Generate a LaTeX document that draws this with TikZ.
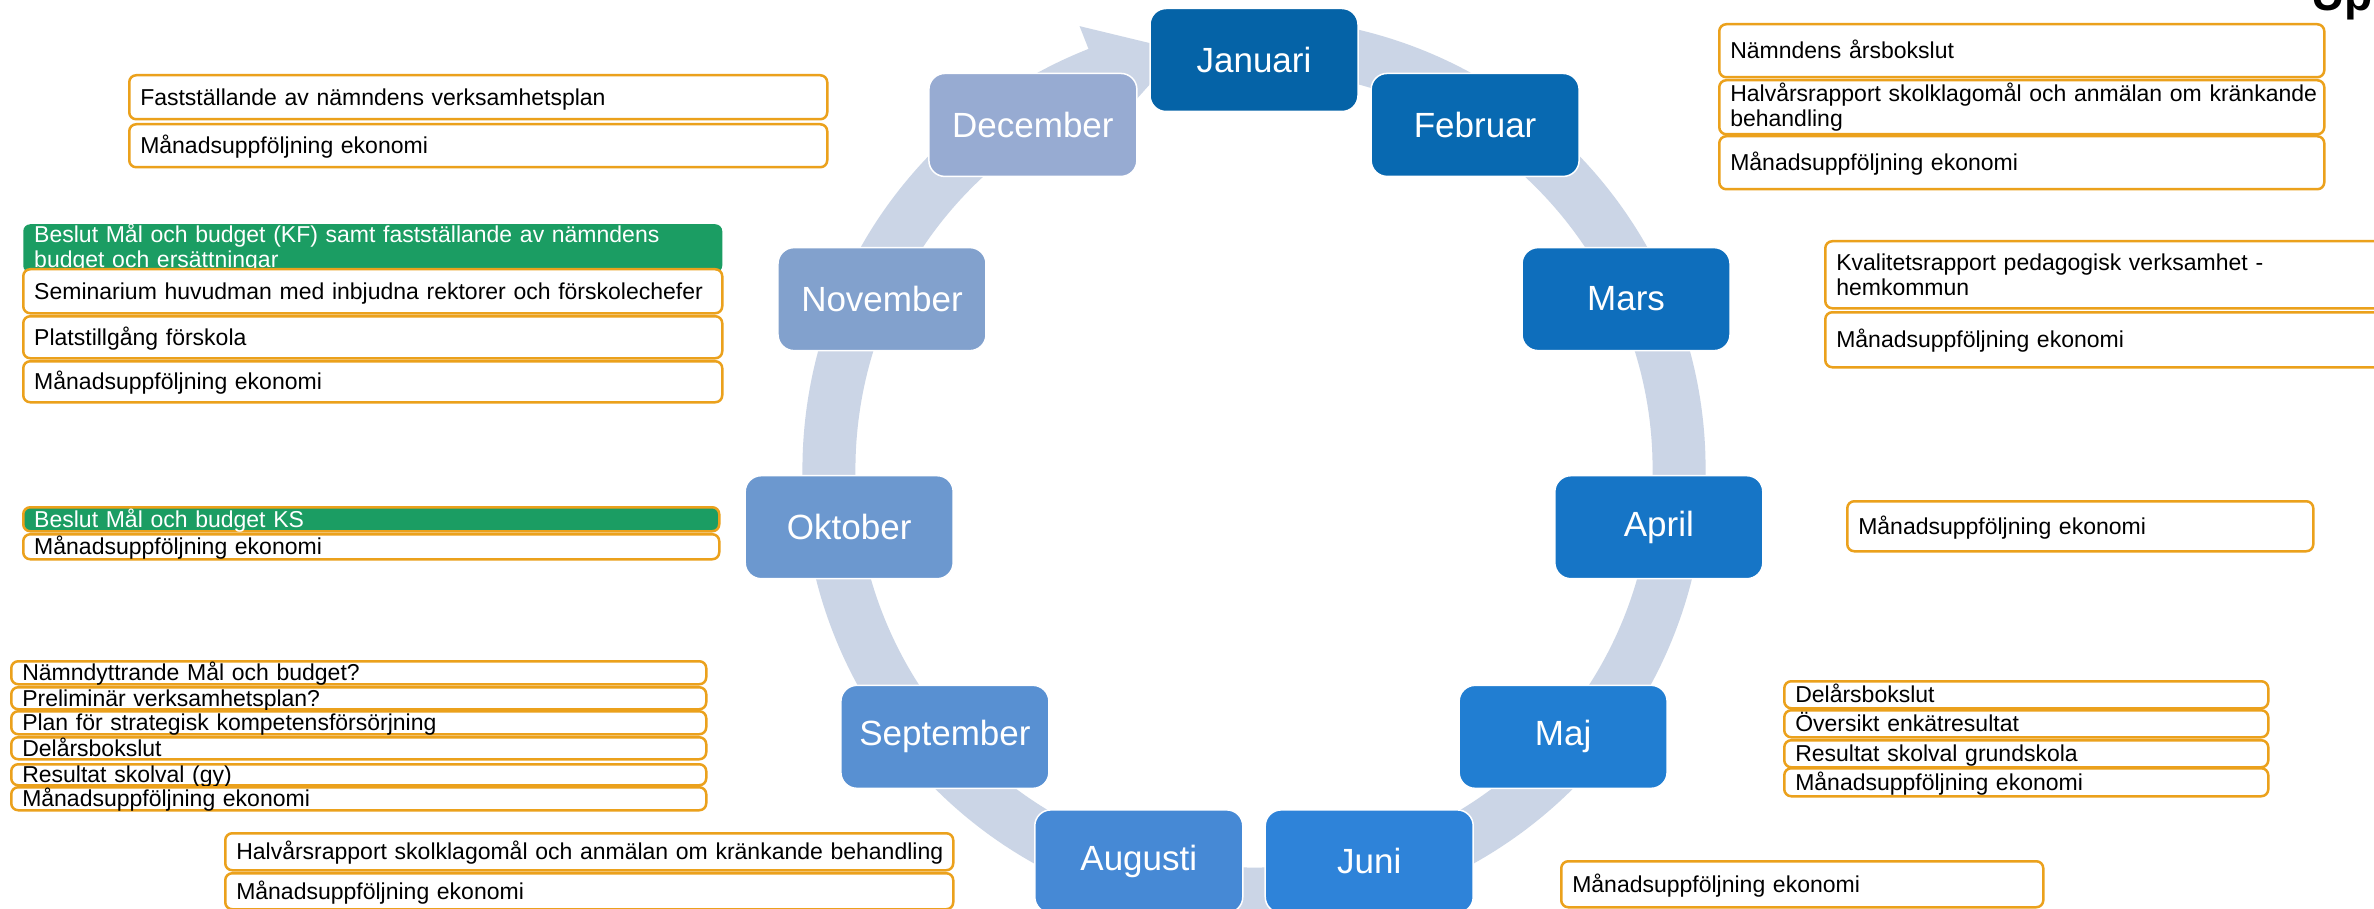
\documentclass[tikz,border=0pt]{standalone}
\usepackage{fontspec}
\setmainfont{Liberation Sans}
\definecolor{ringc}{HTML}{CBD5E6}
\definecolor{itemorange}{HTML}{EBA11C}
\definecolor{itemgreen}{HTML}{1B9D63}
\definecolor{c0}{HTML}{0563A7}
\definecolor{c1}{HTML}{0869B1}
\definecolor{c2}{HTML}{0E6EBC}
\definecolor{c3}{HTML}{1675C6}
\definecolor{c4}{HTML}{217ED2}
\definecolor{c5}{HTML}{2E83D9}
\definecolor{c6}{HTML}{4689D5}
\definecolor{c7}{HTML}{5890D2}
\definecolor{c8}{HTML}{6C98CF}
\definecolor{c9}{HTML}{82A1CD}
\definecolor{c10}{HTML}{97ABD2}
\newcommand\itemfont{\fontsize{23}{25}\selectfont}
\newcommand\monthfont{\fontsize{35}{40}\selectfont}
\tikzset{
  month/.style={rectangle, rounded corners=16pt, minimum width=208pt, minimum height=103pt,
    draw=white, line width=1.5pt, text=white, font=\monthfont, inner sep=0pt},
  item/.style={rectangle, draw=itemorange, line width=2.5pt, rounded corners=7pt, fill=white,
    anchor=north west, align=left, inner xsep=11pt, inner ysep=0pt, font=\itemfont, text=black},
  one/.style={text height=18pt, text depth=2pt},
  greenbox/.style={fill=itemgreen, text=white},
  ring/.style={draw=ringc, line width=53pt},
}
% single-line box: name, extra style, x1, y1, x2, y2, text
\newcommand\ibox[7]{%
  \pgfmathsetmacro\bw{#5-#3}\pgfmathsetmacro\bh{#6-#4}\pgfmathsetmacro\tw{#5-#3-22}%
  \node[item,one,#2,minimum width=\bw pt,minimum height=\bh pt,text width=\tw pt] (#1) at (#3,-#4) {\mbox{#7}};}
% two-line box: name, extra style, x1, y1, x2, y2, line 1, line 2
\newcommand\iboxm[8]{%
  \pgfmathsetmacro\bw{#5-#3}\pgfmathsetmacro\bh{#6-#4}\pgfmathsetmacro\tw{#5-#3-22}%
  \node[item,#2,minimum width=\bw pt,minimum height=\bh pt,text width=\tw pt] (#1) at (#3,-#4) {\mbox{#7}\\\mbox{#8}};}
\begin{document}
\begin{tikzpicture}[x=1pt,y=1pt]
\useasboundingbox (0,0) rectangle (2374,-909);
\fill[white] (0,0) rectangle (2374,-909);

% partly visible heading
\node[font=\bfseries\fontsize{46}{52}\selectfont, anchor=base west, inner sep=0pt] (up) at (2311,-11) {Up};

% ring with arrow head
\begin{scope}[shift={(1254,-469)}]
  \draw[ring] (80:425) arc[start angle=80, end angle=-249, radius=425];
  \fill[ringc] (111.5:476) -- (100:425) -- (111.5:374) -- cycle;
  \node[month,fill=c0]  (jan) at (90:409) {Januari};
  \node[month,fill=c1]  (feb) at (57.2727:409) {Februar};
  \node[month,fill=c2]  (mar) at (24.5455:409) {Mars};
  \node[month,fill=c3]  (apr) at (-8.1818:409) {April};
  \node[month,fill=c4]  (maj) at (-40.9091:409) {Maj};
  \node[month,fill=c5]  (jun) at (-73.6364:409) {Juni};
  \node[month,fill=c6]  (aug) at (-106.3636:409) {Augusti};
  \node[month,fill=c7]  (sep) at (-139.0909:409) {September};
  \node[month,fill=c8]  (okt) at (-171.8182:409) {Oktober};
  \node[month,fill=c9]  (nov) at (155.4545:409) {November};
  \node[month,fill=c10] (dec) at (122.7273:409) {December};
\end{scope}

% Februar
\ibox{f1}{}{1718}{23}{2323}{76}{Nämndens årsbokslut}
\iboxm{f2}{}{1718}{79}{2323}{133}{Halvårsrapport skolklagomål och anmälan om kränkande}{behandling}
\ibox{f3}{}{1718}{135}{2323}{188}{Månadsuppföljning ekonomi}
% Mars
\iboxm{m1}{}{1824}{240}{2420}{307}{Kvalitetsrapport pedagogisk verksamhet -}{hemkommun}
\ibox{m2}{}{1824}{311}{2420}{366}{Månadsuppföljning ekonomi}
% April
\ibox{a1}{}{1846}{500}{2312}{550}{Månadsuppföljning ekonomi}
% Maj
\ibox{j1}{}{1783}{680}{2267}{707}{Delårsbokslut}
\ibox{j2}{}{1783}{709}{2267}{736}{Översikt enkätresultat}
\ibox{j3}{}{1783}{739}{2267}{766}{Resultat skolval grundskola}
\ibox{j4}{}{1783}{767}{2267}{795}{Månadsuppföljning ekonomi}
% Juni
\ibox{u1}{}{1560}{860}{2042}{906}{Månadsuppföljning ekonomi}
% Augusti
\ibox{g1}{}{224}{832}{952}{869}{Halvårsrapport skolklagomål och anmälan om kränkande behandling}
\ibox{g2}{}{224}{872}{952}{908}{Månadsuppföljning ekonomi}
% September
\ibox{s1}{}{10}{660}{705}{683}{Nämndyttrande Mål och budget?}
\ibox{s2}{}{10}{686}{705}{708}{Preliminär verksamhetsplan?}
\ibox{s3}{}{10}{710}{705}{733}{Plan för strategisk kompetensförsörjning}
\ibox{s4}{}{10}{736}{705}{758}{Delårsbokslut}
\ibox{s5}{}{10}{763}{705}{784}{Resultat skolval (gy)}
\ibox{s6}{}{10}{786}{705}{809}{Månadsuppföljning ekonomi}
% Oktober
\ibox{o1}{greenbox}{22}{506}{718}{530}{Beslut Mål och budget KS}
\ibox{o2}{}{22}{533}{718}{558}{Månadsuppföljning ekonomi}
% November
\iboxm{n1}{greenbox,draw=none}{22}{223}{721}{267}{Beslut Mål och budget (KF) samt fastställande av nämndens}{budget och ersättningar}
\ibox{n2}{}{22}{268}{721}{312}{Seminarium huvudman med inbjudna rektorer och förskolechefer}
\ibox{n3}{}{22}{315}{721}{357}{Platstillgång förskola}
\ibox{n4}{}{22}{360}{721}{401}{Månadsuppföljning ekonomi}
% December
\ibox{d1}{}{128}{74}{826}{118}{Fastställande av nämndens verksamhetsplan}
\ibox{d2}{}{128}{123}{826}{166}{Månadsuppföljning ekonomi}
\end{tikzpicture}
\end{document}
